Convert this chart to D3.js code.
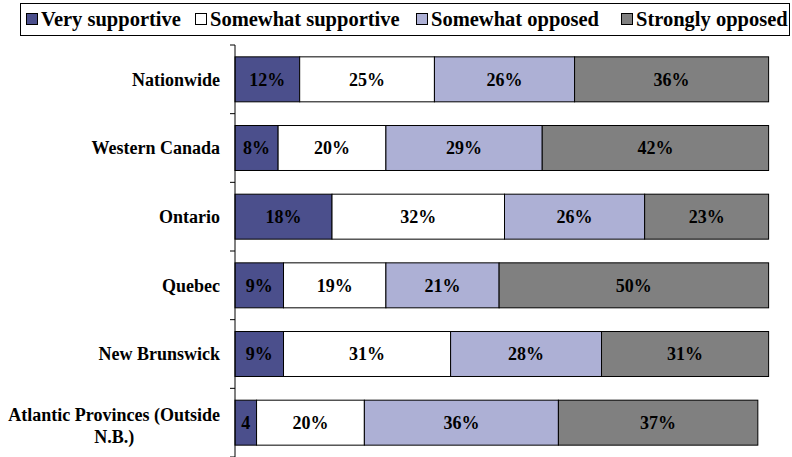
<!DOCTYPE html>
<html><head><meta charset="utf-8">
<script src="https://cdn.jsdelivr.net/npm/d3@7"></script>
<style>body{margin:0;background:#fff}svg{display:block}</style>
</head><body>
<svg id="c" width="792" height="457"></svg>
<script>
const categories = ["Nationwide","Western Canada","Ontario","Quebec","New Brunswick","Atlantic Provinces (Outside N.B.)"];
const seriesNames = ["Very supportive","Somewhat supportive","Somewhat opposed","Strongly opposed"];
const verySupportive = [12, 8, 18, 9, 9, 4];
const somewhatSupportive = [25, 20, 32, 19, 31, 20];
const somewhatOpposed = [26, 29, 26, 21, 28, 36];
const stronglyOpposed = [36, 42, 23, 50, 31, 37];
const valueLabels = [
  ["12%","25%","26%","36%"],
  ["8%","20%","29%","42%"],
  ["18%","32%","26%","23%"],
  ["9%","19%","21%","50%"],
  ["9%","31%","28%","31%"],
  ["4","20%","36%","37%"]
];
const colors = ["#4b4f8c","#ffffff","#adb0d5","#808080"];

const svg = d3.select("#c");
const font = "'Liberation Serif','Times New Roman',serif";
const x = d3.scaleLinear().domain([0,100]).range([235,774]);
const y = d3.scaleBand().domain(categories).range([45,457]).paddingInner(0.345).paddingOuter(0.1725);

const data = categories.map((c,i)=>{
  const vals=[verySupportive[i],somewhatSupportive[i],somewhatOpposed[i],stronglyOpposed[i]];
  let acc=0;
  return vals.map((v,j)=>{const s={cat:c,x0:acc,x1:acc+v,j,label:valueLabels[i][j]};acc+=v;return s;});
}).flat();

svg.selectAll("rect.seg").data(data).join("rect").attr("class","seg")
  .attr("x",d=>x(d.x0)).attr("width",d=>x(d.x1)-x(d.x0))
  .attr("y",d=>y(d.cat)).attr("height",y.bandwidth())
  .attr("fill",d=>colors[d.j]).attr("stroke","#000").attr("stroke-width",1);

svg.selectAll("text.val").data(data).join("text").attr("class","val")
  .attr("x",d=>(x(d.x0)+x(d.x1))/2).attr("y",d=>y(d.cat)+y.bandwidth()/2)
  .attr("dy","0.35em").attr("text-anchor","middle")
  .attr("font-family",font).attr("font-weight","bold").attr("font-size",18)
  .text(d=>d.label);

// axis line + ticks at band boundaries
svg.append("line").attr("x1",235).attr("x2",235).attr("y1",45).attr("y2",457).attr("stroke","#000");
const step = y.step();
d3.range(categories.length+1).forEach(i=>{
  const yy = 45 + i*step;
  svg.append("line").attr("x1",230).attr("x2",235).attr("y1",yy).attr("y2",yy).attr("stroke","#000");
});

// category labels
const wraps = {"Atlantic Provinces (Outside N.B.)":["Atlantic Provinces (Outside","N.B.)"]};
categories.forEach(c=>{
  const lines = wraps[c]||[c];
  const cy = y(c)+y.bandwidth()/2 + (lines.length>1?3:0);
  const g = svg.append("g");
  const lh = 22;
  const t = g.append("text").attr("font-family",font).attr("font-weight","bold").attr("font-size",18);
  lines.forEach((l,k)=>{
    t.append("tspan").attr("y",cy+(k-(lines.length-1)/2)*lh).attr("dy","0.35em").text(l);
  });
  const tsp = t.selectAll("tspan").nodes();
  const widths = tsp.map(n=>n.getComputedTextLength());
  const maxW = d3.max(widths);
  const center = 220 - maxW/2;
  tsp.forEach((n,k)=>d3.select(n).attr("x",center).attr("text-anchor","middle"));
});

// legend
svg.append("rect").attr("x",20.5).attr("y",3.5).attr("width",769).attr("height",32)
  .attr("fill","#fff").attr("stroke","#000");
const legX = [26,195,416,621];
seriesNames.forEach((n,i)=>{
  svg.append("rect").attr("x",legX[i]+0.5).attr("y",13.5).attr("width",11).attr("height",11)
    .attr("fill",colors[i]).attr("stroke","#000");
  svg.append("text").attr("x",legX[i]+15).attr("y",26).attr("font-family",font)
    .attr("font-weight","bold").attr("font-size",20.5).text(n);
});
</script>
</body></html>
